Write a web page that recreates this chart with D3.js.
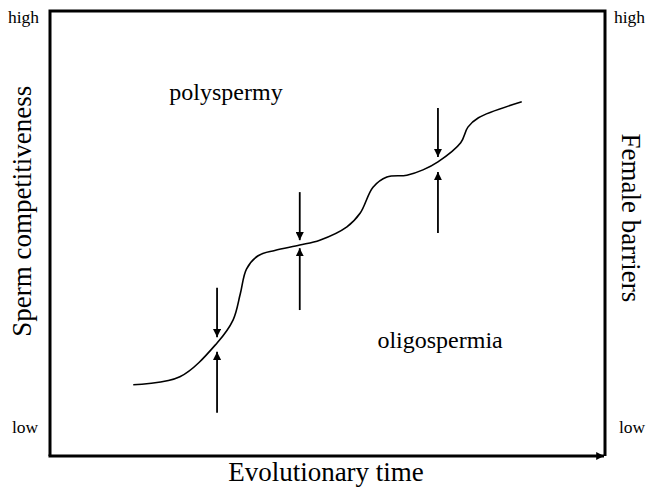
<!DOCTYPE html>
<meta charset="utf-8">
<script src="https://d3js.org/d3.v7.min.js"></script>
<style>
  body { margin: 0; background: #fff; }
</style>
<div id="chart"></div>
<script>
  // curve: evolutionary time (0-100) vs competitiveness / barriers (0-100)
  const curveTime  = [15, 23.4, 30.1, 33.0, 34.3, 35.4, 37.5, 40.5, 45.0, 48.6, 53.5, 55.9, 58.2, 60.7, 64.3, 67.2, 69.9, 74.0, 75.3, 77.2, 85.0];
  const curveLevel = [16, 17.8, 25.4, 30.6, 36.5, 42.0, 45.0, 46.2, 47.4, 48.5, 51.5, 54.6, 60.4, 62.7, 63.1, 64.3, 66.1, 70.4, 73.9, 76.0, 79.6];

  // pairs of opposing arrows (sperm pushing down from above, barriers pushing up from below)
  const arrowTime     = [30.1, 45.0, 69.9];
  const downFrom      = [37.8, 59.3, 78.2];
  const downTo        = [26.7, 48.5, 67.2];
  const upFrom        = [9.7, 32.8, 50.1];
  const upTo          = [23.4, 46.7, 63.8];

  const regionLabels = ["polyspermy", "oligospermia"];
  const regionTime   = [21.5, 59.0];
  const regionLevel  = [80.0, 24.3];

  const W = 647, H = 488;
  const frame = {left: 50, right: 605, top: 11, bottom: 456};
  const serif = "'Liberation Serif', 'Times New Roman', Times, 'DejaVu Serif', serif";

  const svg = d3.select("#chart").append("svg")
    .attr("width", W).attr("height", H)
    .attr("font-family", serif);

  const x = d3.scaleLinear().domain([0, 100]).range([frame.left, frame.right]);
  const y = d3.scaleLinear().domain([0, 100]).range([frame.bottom, frame.top]);

  const defs = svg.append("defs");
  defs.append("marker")
    .attr("id", "head").attr("viewBox", "0 0 10 10")
    .attr("refX", 10).attr("refY", 5)
    .attr("markerWidth", 4.5).attr("markerHeight", 4.5)
    .attr("markerUnits", "strokeWidth")
    .attr("orient", "auto")
    .append("path").attr("d", "M0,0L10,5L0,10z").attr("fill", "#000");
  defs.append("marker")
    .attr("id", "axhead").attr("viewBox", "0 0 10 10")
    .attr("refX", 10).attr("refY", 5)
    .attr("markerWidth", 3.2).attr("markerHeight", 2.6)
    .attr("markerUnits", "strokeWidth")
    .attr("orient", "auto")
    .append("path").attr("d", "M0,0L10,5L0,10z").attr("fill", "#000");

  // frame: left, top, right lines plus the time axis arrow
  svg.append("path")
    .attr("d", `M${x(0)},${y(0)}V${y(100)}H${x(100)}V${y(0)}`)
    .attr("fill", "none").attr("stroke", "#000").attr("stroke-width", 3);
  svg.append("line")
    .attr("x1", x(0) - 1.5).attr("x2", x(100) - 1)
    .attr("y1", y(0)).attr("y2", y(0))
    .attr("stroke", "#000").attr("stroke-width", 3)
    .attr("marker-end", "url(#axhead)");

  // curve
  const line = d3.line().x(d => x(d[0])).y(d => y(d[1])).curve(d3.curveCatmullRom.alpha(0.5));
  svg.append("path")
    .datum(d3.zip(curveTime, curveLevel))
    .attr("d", line)
    .attr("fill", "none").attr("stroke", "#000").attr("stroke-width", 1.6);

  // arrows
  const arrows = arrowTime.map((t, i) => ({t, d0: downFrom[i], d1: downTo[i], u0: upFrom[i], u1: upTo[i]}));
  const ag = svg.append("g").attr("stroke", "#000").attr("stroke-width", 1.8);
  ag.selectAll("line.down").data(arrows).join("line").attr("class", "down")
    .attr("x1", d => x(d.t)).attr("x2", d => x(d.t))
    .attr("y1", d => y(d.d0)).attr("y2", d => y(d.d1))
    .attr("marker-end", "url(#head)");
  ag.selectAll("line.up").data(arrows).join("line").attr("class", "up")
    .attr("x1", d => x(d.t)).attr("x2", d => x(d.t))
    .attr("y1", d => y(d.u0)).attr("y2", d => y(d.u1))
    .attr("marker-end", "url(#head)");

  // region labels
  svg.selectAll("text.region").data(regionLabels).join("text").attr("class", "region")
    .attr("x", (d, i) => x(regionTime[i]))
    .attr("y", (d, i) => y(regionLevel[i]))
    .attr("font-size", 24)
    .text(d => d);

  // high / low on both sides
  const ends = [{t: "high", v: 100, dy: 12}, {t: "low", v: 0, dy: -23}];
  svg.selectAll("text.endL").data(ends).join("text").attr("class", "endL")
    .attr("x", d => d.t === "high" ? 8 : 12)
    .attr("y", d => y(d.v) + d.dy)
    .attr("font-size", 17.5).text(d => d.t);
  svg.selectAll("text.endR").data(ends).join("text").attr("class", "endR")
    .attr("x", d => d.t === "high" ? 614 : 619)
    .attr("y", d => y(d.v) + d.dy)
    .attr("font-size", 17.5).text(d => d.t);

  // axis titles
  svg.append("text")
    .attr("transform", `translate(31,${y(55)}) rotate(-90)`)
    .attr("text-anchor", "middle").attr("font-size", 27)
    .text("Sperm competitiveness");
  svg.append("text")
    .attr("transform", `translate(622,${y(53.5)}) rotate(90)`)
    .attr("text-anchor", "middle").attr("font-size", 27)
    .text("Female barriers");
  svg.append("text")
    .attr("x", 326).attr("y", 481)
    .attr("text-anchor", "middle").attr("font-size", 27)
    .text("Evolutionary time");
</script>
